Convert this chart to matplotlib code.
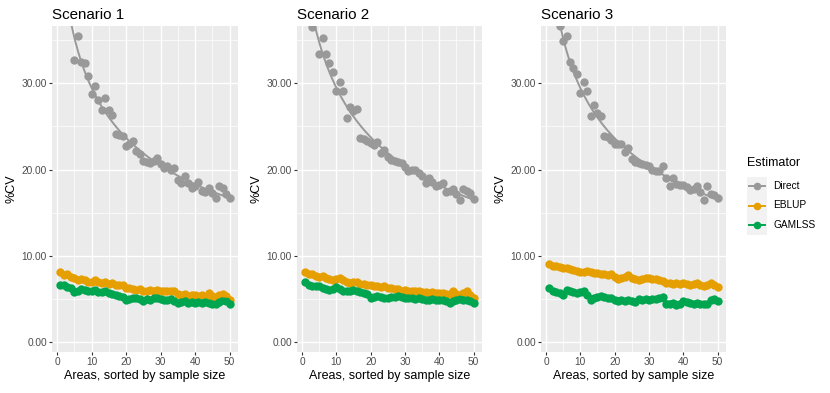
import matplotlib
matplotlib.use("Agg")
import matplotlib.pyplot as plt
import numpy as np
from matplotlib.patches import Rectangle

plt.rcParams['font.family'] = ['Liberation Sans', 'DejaVu Sans']

# datos (areas 1..50)
areas = np.arange(1, 51)
escenarios = ["Scenario 1", "Scenario 2", "Scenario 3"]
estimadores = ["Direct", "EBLUP", "GAMLSS"]
colores = {"Direct": "#999999", "EBLUP": "#E69F00", "GAMLSS": "#00A550"}

direct1 = [46.0, 42.5, 39.5, 37.5, 32.7, 35.4, 32.4, 32.3, 30.8, 28.7,
           29.7, 28.1, 26.9, 28.3, 26.9, 26.3, 24.1, 24.0, 23.9, 22.7,
           23.0, 23.3, 22.2, 21.8, 21.0, 20.9, 20.8, 21.0, 21.3, 20.6,
           20.2, 20.4, 20.0, 20.2, 18.8, 18.4, 19.3, 18.4, 17.9, 18.1,
           18.6, 17.5, 17.4, 17.9, 17.3, 16.7, 18.1, 17.9, 17.2, 16.7]
eblup1 = [8.2, 7.8, 7.95, 7.6, 7.5, 7.2, 7.3, 7.25, 7.0, 7.05,
          7.2, 7.0, 6.9, 7.0, 6.8, 6.9, 6.6, 6.6, 6.7, 6.3,
          6.3, 6.2, 6.1, 6.2, 5.9, 6.0, 6.1, 5.9, 6.1, 6.0,
          5.9, 5.95, 6.0, 5.9, 5.6, 5.5, 5.6, 5.4, 5.5, 5.5,
          5.4, 5.5, 5.3, 5.7, 5.4, 5.3, 5.5, 5.6, 5.4, 4.9]
gamlss1 = [6.7, 6.6, 6.4, 6.3, 5.8, 6.0, 6.2, 6.1, 6.0, 5.9,
           6.1, 5.8, 5.8, 5.9, 5.7, 5.6, 5.5, 5.4, 5.3, 4.9,
           5.0, 5.2, 5.1, 5.0, 4.8, 5.0, 4.9, 5.1, 5.1, 5.0,
           4.9, 4.9, 5.0, 4.8, 4.6, 4.7, 4.8, 4.6, 4.7, 4.6,
           4.7, 4.6, 4.7, 4.6, 4.5, 4.5, 4.7, 4.9, 4.8, 4.5]

direct2 = [42.0, 39.0, 36.5, 37.2, 33.4, 35.2, 33.4, 32.3, 31.3, 29.1,
           30.1, 29.1, 26.0, 27.2, 26.8, 27.0, 23.7, 23.5, 23.3, 23.1,
           22.8, 23.2, 21.9, 22.3, 21.4, 21.1, 21.0, 20.9, 20.8, 20.3,
           19.8, 19.9, 20.0, 19.6, 19.2, 18.5, 19.0, 18.6, 18.1, 18.2,
           18.5, 17.4, 17.5, 17.7, 17.2, 16.5, 17.7, 17.5, 17.3, 16.6]
eblup2 = [8.15, 7.9, 7.9, 7.7, 7.6, 7.7, 7.5, 7.3, 7.2, 7.3,
          7.5, 7.2, 7.0, 6.9, 7.0, 7.0, 6.8, 6.8, 6.7, 6.6,
          6.5, 6.5, 6.4, 6.5, 6.3, 6.3, 6.2, 6.2, 6.0, 6.1,
          6.0, 5.9, 5.9, 5.9, 5.8, 5.8, 5.7, 5.8, 5.7, 5.7,
          5.7, 5.6, 5.6, 5.9, 5.6, 5.5, 5.7, 5.9, 5.5, 5.1]
gamlss2 = [7.0, 6.6, 6.5, 6.5, 6.5, 6.3, 6.2, 6.1, 6.2, 6.4,
           6.2, 6.0, 5.9, 6.0, 6.1, 5.9, 5.8, 5.7, 5.6, 5.1,
           5.3, 5.4, 5.3, 5.1, 5.2, 5.3, 5.3, 5.4, 5.3, 5.2,
           5.1, 5.2, 5.0, 5.1, 5.0, 4.9, 4.9, 5.0, 4.9, 4.9,
           4.9, 4.8, 4.6, 4.8, 4.9, 5.0, 4.9, 4.9, 4.8, 4.6]

direct3 = [45.0, 41.5, 38.5, 36.6, 34.9, 35.5, 32.4, 31.7, 31.1, 28.9,
           30.1, 29.1, 26.2, 27.5, 26.5, 26.2, 23.9, 23.8, 23.4, 23.0,
           23.0, 23.0, 22.0, 22.5, 21.2, 20.9, 20.7, 20.6, 20.5, 20.4,
           19.9, 19.8, 19.8, 20.4, 19.0, 18.1, 19.0, 18.3, 18.2, 18.2,
           18.0, 17.6, 17.8, 18.1, 17.4, 16.5, 18.1, 17.2, 17.0, 16.7]
eblup3 = [9.1, 8.9, 8.85, 8.7, 8.6, 8.6, 8.5, 8.4, 8.3, 8.15,
          8.2, 8.3, 8.1, 8.0, 8.0, 7.9, 7.9, 7.8, 7.95, 7.6,
          7.3, 7.5, 7.6, 7.8, 7.4, 7.3, 7.2, 7.3, 7.4, 7.4,
          7.3, 7.3, 7.2, 7.1, 6.85, 6.9, 6.8, 6.9, 6.8, 6.85,
          6.8, 6.7, 6.75, 6.85, 6.6, 6.5, 6.7, 6.9, 6.7, 6.45]
gamlss3 = [6.35, 6.0, 5.8, 5.7, 5.5, 6.1, 5.9, 5.8, 5.7, 5.8,
           6.0, 5.5, 4.9, 5.1, 5.3, 5.4, 5.3, 5.2, 5.2, 4.9,
           4.8, 4.9, 4.8, 4.9, 4.8, 4.7, 5.0, 4.9, 5.0, 4.9,
           5.0, 5.0, 5.1, 5.3, 4.5, 4.4, 4.6, 4.3, 4.5, 4.8,
           4.7, 4.6, 4.5, 4.6, 4.4, 4.5, 4.4, 4.9, 5.0, 4.8]

datos = [
    {"Direct": direct1, "EBLUP": eblup1, "GAMLSS": gamlss1},
    {"Direct": direct2, "EBLUP": eblup2, "GAMLSS": gamlss2},
    {"Direct": direct3, "EBLUP": eblup3, "GAMLSS": gamlss3},
]

W, H = 830, 393
fig = plt.figure(figsize=(W / 100, H / 100), dpi=100)

# posiciones de los paneles en pixeles (izq, der)
paneles = [(52, 238), (297, 482), (541, 726)]
top, bottom = 26, 352

xs = np.linspace(1, 50, 200)

for i, (l, r) in enumerate(paneles):
    ax = fig.add_axes([l / W, (H - bottom) / H, (r - l) / W, (bottom - top) / H])
    ax.set_facecolor("#EBEBEB")
    for s in ax.spines.values():
        s.set_visible(False)
    ax.set_xlim(-1.45, 52.45)
    ax.set_ylim(-1.1, 36.6)
    ax.set_xticks([0, 10, 20, 30, 40, 50])
    ax.set_xticks([5, 15, 25, 35, 45], minor=True)
    ax.set_yticks([0, 10, 20, 30])
    ax.set_yticks([5, 15, 25, 35], minor=True)
    ax.set_yticklabels(["0.00", "10.00", "20.00", "30.00"])
    ax.grid(which="major", color="white", linewidth=1.0)
    ax.grid(which="minor", color="white", linewidth=0.5)
    ax.set_axisbelow(True)
    ax.tick_params(which="major", length=2.2, width=0.8, color="#333333",
                   labelsize=7.3, labelcolor="#4D4D4D", pad=1.5)
    ax.tick_params(which="minor", length=0)

    # puntos y curvas suavizadas
    for est in estimadores:
        y = np.array(datos[i][est])
        ax.scatter(areas, y, s=36, color=colores[est], linewidths=0, zorder=3)
    for est in estimadores:
        y = np.array(datos[i][est])
        coef = np.polyfit(np.log(areas), np.log(y), 2)
        ax.plot(xs, np.exp(np.polyval(coef, np.log(xs))), color=colores[est],
                linewidth=1.4, zorder=4)

    ax.set_title(escenarios[i], loc="left", fontsize=10.9, pad=5)
    ax.set_xlabel("Areas, sorted by sample size", fontsize=9, labelpad=2)
    ax.set_ylabel("%CV", fontsize=9, labelpad=3)

# leyenda dibujada a mano
lax = fig.add_axes([0, 0, 1, 1], facecolor="none")
lax.set_xlim(0, W)
lax.set_ylim(H, 0)
lax.axis("off")
lax.text(747, 163, "Estimator", fontsize=9, va="center", ha="left")
for k, est in enumerate(estimadores):
    yc = 186 + k * 19.5
    lax.add_patch(Rectangle((747, yc - 9.5), 20, 19.5, facecolor="#F2F2F2",
                            edgecolor="none"))
    lax.plot([749, 765], [yc, yc], color=colores[est], linewidth=1.4)
    lax.plot([757], [yc], marker="o", markersize=5.5, color=colores[est],
             markeredgewidth=0)
    lax.text(773, yc, est, fontsize=7.3, va="center", ha="left")

plt.savefig("out.png", dpi=100)
